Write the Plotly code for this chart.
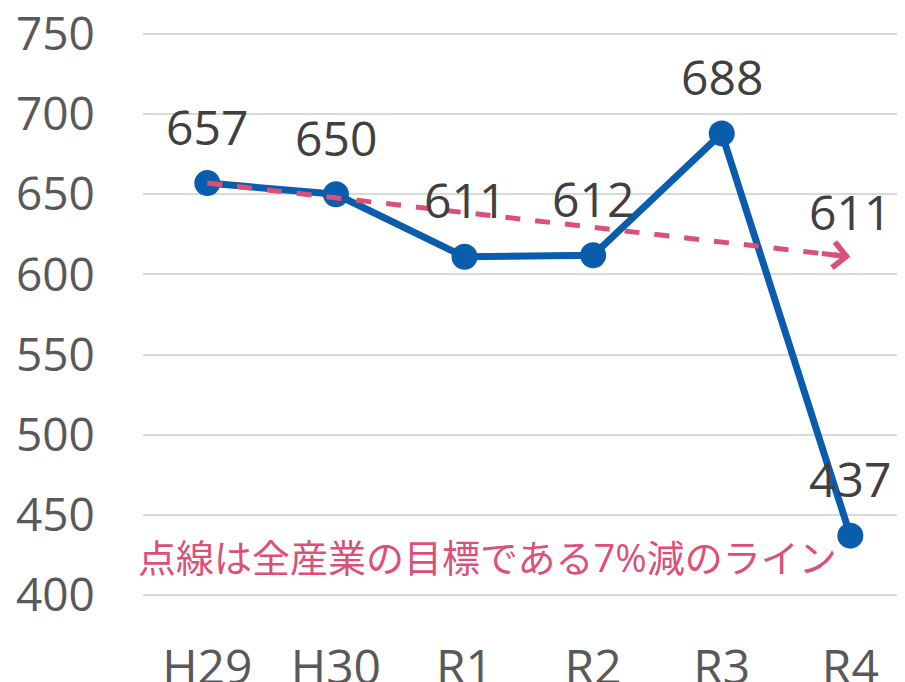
import plotly.graph_objects as go

categories = ["H29", "H30", "R1", "R2", "R3", "R4"]
values = [657, 650, 611, 612, 688, 437]
target_x = ["H29", "R4"]
target_y = [657, 611]
y_ticks = [400, 450, 500, 550, 600, 650, 700, 750]
note = "点線は全産業の目標である7%減のライン"

BLUE = "#0A5CAD"
PINK = "#DC5078"
LABEL = "#404040"
TICK = "#595959"
FONT = "Open Sans, Noto Sans CJK JP, sans-serif"

fig = go.Figure()
fig.add_trace(go.Scatter(
    x=categories, y=values, mode="lines+markers",
    line=dict(color=BLUE, width=7),
    marker=dict(color=BLUE, size=26),
    cliponaxis=False, showlegend=False,
))
fig.add_trace(go.Scatter(
    x=target_x, y=target_y, mode="lines",
    line=dict(color=PINK, width=5, dash="dash"),
    showlegend=False, cliponaxis=False,
))
for c, v in zip(categories, values):
    fig.add_annotation(
        x=c, y=v, xref="x", yref="y", text=str(v), showarrow=False,
        yshift=57, font=dict(size=48, color=LABEL, family=FONT),
    )
# arrow head at the end of the target line
fig.add_annotation(
    x=target_x[-1], y=target_y[-1], xref="x", yref="y",
    ax=-30, ay=-3.4, axref="pixel", ayref="pixel",
    text="", showarrow=True, arrowhead=4, arrowsize=1,
    arrowwidth=5, arrowcolor=PINK, standoff=0,
)
# label of target end value
fig.add_annotation(
    x=target_x[-1], y=target_y[-1], xref="x", yref="y",
    text=str(target_y[-1]), showarrow=False, yshift=45,
    font=dict(size=48, color=LABEL, family=FONT),
)
fig.add_annotation(
    x=0, y=424, xref="paper", yref="y", xanchor="left", yanchor="middle",
    text=note, showarrow=False, xshift=-7,
    font=dict(size=38, color=PINK, family=FONT),
)

fig.update_layout(
    width=897, height=674,
    margin=dict(l=135, r=0, t=10, b=79, autoexpand=False),
    plot_bgcolor="white", paper_bgcolor="white",
    font=dict(family=FONT),
)
fig.update_xaxes(
    range=[-0.5, 5.425], showgrid=False, zeroline=False, showline=False,
    tickfont=dict(size=48, color=TICK, family=FONT), automargin=False,
    ticks="outside", ticklen=22, tickcolor="rgba(0,0,0,0)",
    ticklabeloverflow="allow",
)
fig.update_yaxes(
    range=[395, 760], tickvals=y_ticks, showgrid=True, gridcolor="#D9D9D9",
    gridwidth=2, zeroline=False, showline=False, automargin=False,
    tickfont=dict(size=46, color=TICK, family=FONT),
    ticks="outside", ticklen=38, tickcolor="rgba(0,0,0,0)",
    ticklabeloverflow="allow",
)

fig.write_html("out.html")
